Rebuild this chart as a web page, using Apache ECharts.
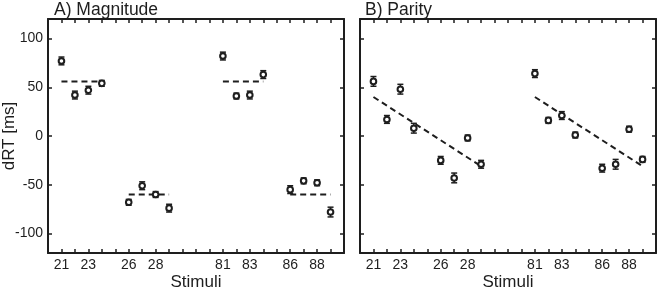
<!DOCTYPE html>
<html>
<head>
<meta charset="utf-8">
<script src="https://cdn.jsdelivr.net/npm/echarts@6/dist/echarts.min.js"></script>
<style>
html,body{margin:0;padding:0;background:#fff;}
#chart{width:658px;height:289px;}
</style>
</head>
<body>
<div id="chart"></div>
<script>
// x positions of stimuli on the axis (gaps between blocks)
const stimuli = ['21','22','23','24','26','27','28','29','81','82','83','84','86','87','88','89'];
const positions = [0,1,2,3,5,6,7,8,12,13,14,15,17,18,19,20];
const xTickLabelPos = [0,2,5,7,12,14,17,19];
const xTickLabelText = ['21','23','26','28','81','83','86','88'];
const yTickValues = [-100,-50,0,50,100];

const magnitudeMean = [77,42,47,54,-68,-51,-60,-74,82,41,42,63,-55,-46,-48,-78];
const magnitudeErr  = [4,4,4,3,3,4,3,4,4,3,4,4,4,3,3,5];
const parityMean    = [56,17,48,8,-25,-43,-2,-29,64,16,21,1,-33,-29,7,-24];
const parityErr     = [5,4,5,5,4,5,3,4,4,3,4,3,4,5,3,3];

// fitted dashed lines (start/end points)
const magnitudeFits = [[[0,56],[3,56]], [[5,-60],[8,-60]], [[12,56],[15,56]], [[17,-60],[20,-60]]];
const parityFits = [[[0,40],[8,-31]], [[12,40],[20,-31]]];

const titles = ['A) Magnitude','B) Parity'];

const INK = '#1e1e1e';
const FONT = 'Liberation Sans, Arial, sans-serif';

const chart = echarts.init(document.getElementById('chart'), null, {renderer:'canvas'});

const allXTicks = []; for (let v = 0; v <= 20; v++) allXTicks.push(v);

function xAxes(gi){
  const base = {
    type:'value', gridIndex:gi, min:-1, max:21,
    axisLine:{show:true, onZero:false, lineStyle:{color:INK, width:2}},
    splitLine:{show:false},
    axisTick:{show:true, inside:true, length:4, customValues:allXTicks, lineStyle:{color:INK, width:1.5}}
  };
  return [
    Object.assign({}, base, {
      position:'bottom',
      name:'Stimuli', nameLocation:'middle', nameGap:21, nameMoveOverlap:false,
      nameTextStyle:{fontFamily:FONT, fontSize:17, color:INK},
      axisLabel:{show:true, customValues:xTickLabelPos, margin:5, fontFamily:FONT, fontSize:14, color:INK,
        formatter:v=>{const i=xTickLabelPos.indexOf(Math.round(v)); return i>=0?xTickLabelText[i]:'';}}
    }),
    Object.assign({}, base, {position:'top', axisLabel:{show:false}})
  ];
}
function yAxes(gi){
  const base = {
    type:'value', gridIndex:gi, min:-120, max:120,
    axisLine:{show:true, onZero:false, lineStyle:{color:INK, width:2}},
    splitLine:{show:false},
    axisTick:{show:true, inside:true, length:4, customValues:yTickValues, lineStyle:{color:INK, width:1.5}}
  };
  return [
    Object.assign({}, base, {
      position:'left',
      name: gi===0 ? 'dRT [ms]' : '', nameLocation:'middle', nameGap:30, nameMoveOverlap:false,
      nameTextStyle:{fontFamily:FONT, fontSize:17, color:INK},
      axisLabel:{show: gi===0, customValues:yTickValues, margin:5, fontFamily:FONT, fontSize:14, color:INK}
    }),
    Object.assign({}, base, {position:'right', axisLabel:{show:false}})
  ];
}

function errSeries(gi, means, errs){
  const data = positions.map((p,i)=>[p, means[i], means[i]-errs[i], means[i]+errs[i]]);
  return {
    type:'custom', xAxisIndex:gi*2, yAxisIndex:gi*2, z:3,
    data:data,
    encode:{x:0, y:[1,2,3]},
    renderItem:function(params, api){
      const x = api.value(0);
      const lo = api.coord([x, api.value(2)]);
      const hi = api.coord([x, api.value(3)]);
      const c = api.coord([x, api.value(1)]);
      const w = 3;
      const st = {stroke:INK, lineWidth:1.5, fill:null};
      return {type:'group', children:[
        {type:'line', shape:{x1:lo[0], y1:lo[1], x2:hi[0], y2:hi[1]}, style:st},
        {type:'line', shape:{x1:lo[0]-w, y1:lo[1], x2:lo[0]+w, y2:lo[1]}, style:st},
        {type:'line', shape:{x1:hi[0]-w, y1:hi[1], x2:hi[0]+w, y2:hi[1]}, style:st},
        {type:'circle', shape:{cx:c[0], cy:c[1], r:2.8}, style:{stroke:INK, lineWidth:2, fill:'#fff'}}
      ]};
    }
  };
}
function fitSeries(gi, fits){
  return fits.map(f=>({
    type:'line', xAxisIndex:gi*2, yAxisIndex:gi*2, z:2,
    data:f, symbol:'none', silent:true,
    lineStyle:{color:INK, width:2, type:[6,4]}
  }));
}

const option = {
  animation:false,
  backgroundColor:'#fff',
  title: [
    {text:titles[0], left:54, top:1, padding:0, textStyle:{fontFamily:FONT, fontSize:17.5, fontWeight:'normal', color:INK}},
    {text:titles[1], left:365, top:1, padding:0, textStyle:{fontFamily:FONT, fontSize:17.5, fontWeight:'normal', color:INK}}
  ],
  grid:[
    {left:48, right:314, top:19, bottom:36, outerBoundsMode:'none', containLabel:false},
    {left:360, right:2, top:19, bottom:36, outerBoundsMode:'none', containLabel:false}
  ],
  xAxis: xAxes(0).concat(xAxes(1)),
  yAxis: yAxes(0).concat(yAxes(1)),
  series: [].concat(
    fitSeries(0, magnitudeFits),
    fitSeries(1, parityFits),
    [errSeries(0, magnitudeMean, magnitudeErr), errSeries(1, parityMean, parityErr)]
  )
};
chart.setOption(option);
</script>
</body>
</html>
